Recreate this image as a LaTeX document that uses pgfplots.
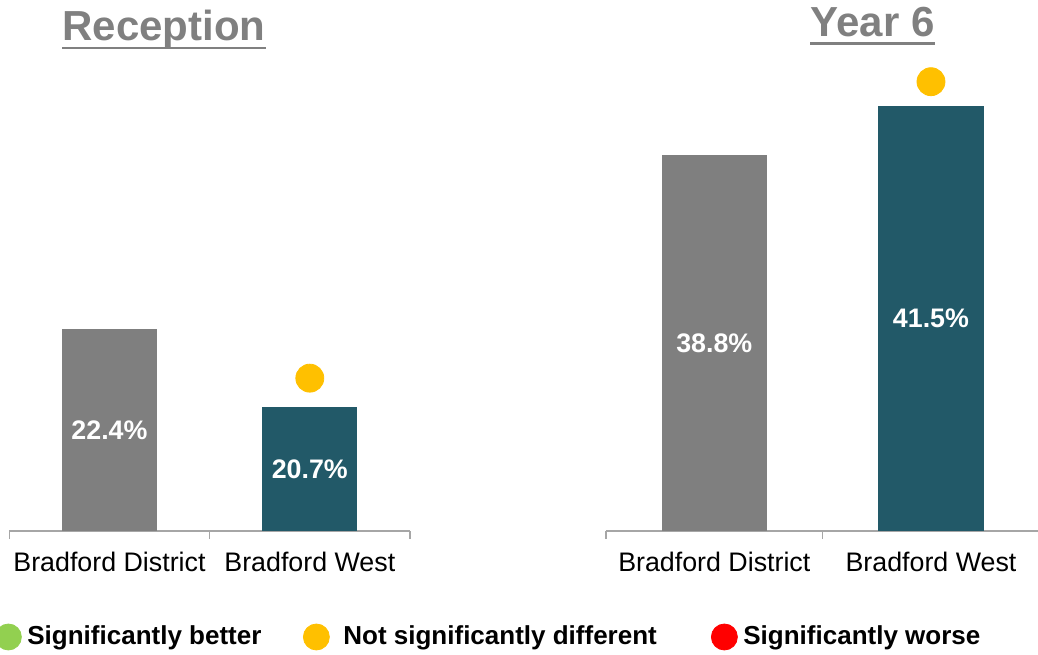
\documentclass[border=0pt]{standalone}
\usepackage{fontspec}
\setmainfont{Liberation Sans}
\usepackage{pgfplots}
\pgfplotsset{compat=1.18}

\definecolor{bargray}{HTML}{7F7F7F}
\definecolor{barteal}{HTML}{225968}
\definecolor{axisgray}{HTML}{A6A6A6}
\definecolor{titlegray}{HTML}{808080}
\definecolor{dotyellow}{HTML}{FFC000}
\definecolor{dotgreen}{HTML}{92D050}
\definecolor{dotred}{HTML}{FF0000}

\pgfplotsset{
  panel/.style={
    scale only axis,
    height=235.5pt,
    xmin=-0.5, xmax=1.5, ymin=18,
    axis x line*=bottom, axis y line=none, ytick=\empty,
    axis line style={axisgray, line width=0.8pt},
    xtick={0,1}, xticklabels={Bradford District, Bradford West},
    minor xtick={-0.5,0.5,1.5},
    major tick length=0pt, minor tick length=4pt,
    tick align=outside,
    tick style={axisgray, line width=0.8pt},
    xticklabel style={font=\fontsize{13.4}{15}\selectfont, text=black, yshift=-7pt},
  },
  barlabel/.style={forget plot, draw=none, mark=none, nodes near coords, point meta=explicit symbolic,
    every node near coord/.style={anchor=center, text=white,
      font=\fontsize{13.4}{15}\selectfont\bfseries}},
}

\begin{document}
\begin{tikzpicture}
\useasboundingbox (0,-327pt) rectangle (519pt,0);

% Reception
\begin{axis}[panel, at={(4.65pt,-265.5pt)}, anchor=south west,
  width=200.35pt, ymax=28.26,
  legend columns=3,
  legend style={at={(-0.0357,-0.225)}, anchor=west, draw=none, fill=none,
    inner sep=0pt, cells={anchor=west},
    nodes={inner sep=0pt, text=black, font=\fontsize{13}{15}\selectfont\bfseries}},
]
\addplot[forget plot, ybar, bar width=0.475, bar shift=0pt, fill=bargray, draw=none] coordinates {(0,22.4)};
\addplot[forget plot, ybar, bar width=0.475, bar shift=0pt, fill=barteal, draw=none] coordinates {(1,20.7)};
\addplot[barlabel] coordinates {(0,20.2) [22.4\%] (1,19.35) [20.7\%]};
\addplot[forget plot, only marks, mark=*, mark size=7pt, color=dotyellow] coordinates {(1,21.33)};
\addlegendimage{only marks, mark=*, mark size=6.5pt, color=dotgreen}
\addlegendentry{\makebox[141pt][l]{\hspace{3pt}Significantly better}}
\addlegendimage{only marks, mark=*, mark size=6.5pt, color=dotyellow}
\addlegendentry{\makebox[191pt][l]{\hspace{7pt}Not significantly different}}
\addlegendimage{only marks, mark=*, mark size=6.5pt, color=dotred}
\addlegendentry{\hspace{3pt}Significantly worse}
\end{axis}

% Year 6
\begin{axis}[panel, at={(303pt,-265.5pt)}, anchor=south west,
  width=216.65pt, ymax=44.05]
\addplot[ybar, bar width=0.485, bar shift=0pt, fill=bargray, draw=none] coordinates {(0,38.8)};
\addplot[ybar, bar width=0.485, bar shift=0pt, fill=barteal, draw=none] coordinates {(1,41.5)};
\addplot[barlabel] coordinates {(0,28.4) [38.8\%] (1,29.75) [41.5\%]};
\addplot[only marks, mark=*, mark size=7pt, color=dotyellow] coordinates {(1,42.85)};
\end{axis}

% panel titles
\node[anchor=base, inner sep=0pt, text=titlegray,
  font=\fontsize{21}{24}\selectfont\bfseries] (t1) at (82pt,-20pt) {Reception};
\draw[titlegray, line width=1.3pt] ([yshift=-4pt]t1.base west) -- ([yshift=-4pt]t1.base east);
\node[anchor=base, inner sep=0pt, text=titlegray,
  font=\fontsize{21}{24}\selectfont\bfseries] (t2) at (436.25pt,-18.4pt) {Year 6};
\draw[titlegray, line width=1.3pt] ([yshift=-3.3pt]t2.base west) -- ([yshift=-3.3pt]t2.base east);
\end{tikzpicture}
\end{document}
